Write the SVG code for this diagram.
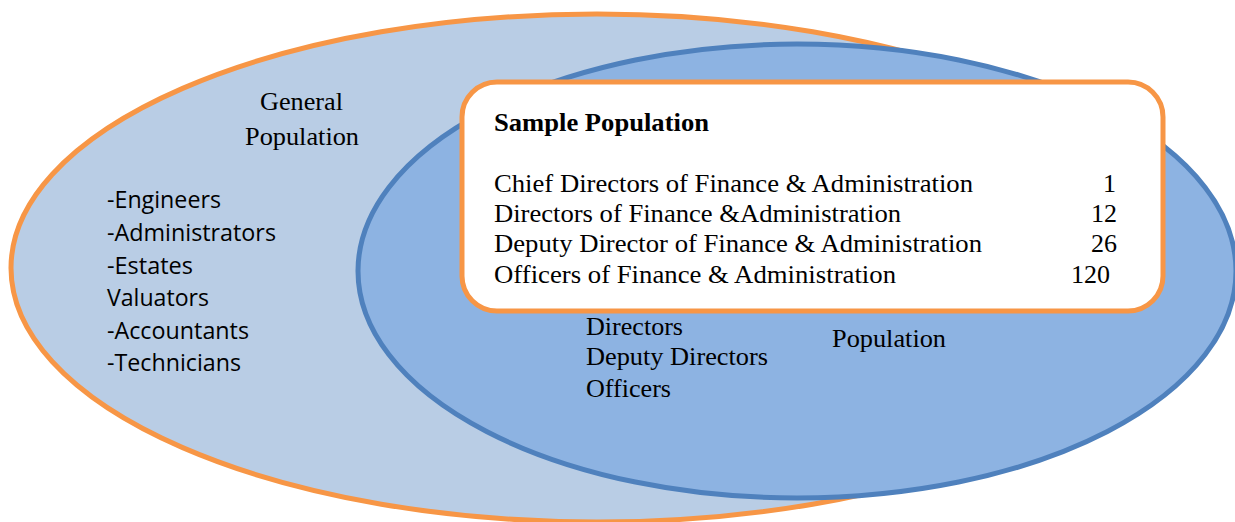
<svg xmlns="http://www.w3.org/2000/svg" width="1235" height="522" viewBox="0 0 1235 522">
<style>
.serif{font-family:"Liberation Serif","Times New Roman",serif;font-size:26px;fill:#000}
.bold{font-weight:bold}
.sans{font-family:"Open Sans","Noto Sans","Liberation Sans",sans-serif;font-size:23px;fill:#000}
.num{text-anchor:end}
</style>
<rect width="1235" height="522" fill="#ffffff"/>
<g id="general-population">
<ellipse cx="597" cy="268" rx="586" ry="254" fill="#B9CDE5" stroke="#F79646" stroke-width="5"/>
<text class="serif" x="260" y="110" textLength="83" lengthAdjust="spacingAndGlyphs">General</text>
<text class="serif" x="245" y="145" textLength="114" lengthAdjust="spacingAndGlyphs">Population</text>
<text class="sans" x="107" y="208" textLength="114" lengthAdjust="spacingAndGlyphs">-Engineers</text>
<text class="sans" x="107" y="241" textLength="169" lengthAdjust="spacingAndGlyphs">-Administrators</text>
<text class="sans" x="107" y="274" textLength="86" lengthAdjust="spacingAndGlyphs">-Estates</text>
<text class="sans" x="107" y="306" textLength="102" lengthAdjust="spacingAndGlyphs">Valuators</text>
<text class="sans" x="107" y="339" textLength="142" lengthAdjust="spacingAndGlyphs">-Accountants</text>
<text class="sans" x="107" y="371" textLength="134" lengthAdjust="spacingAndGlyphs">-Technicians</text>
</g>
<g id="target-population">
<ellipse cx="797" cy="271" rx="439" ry="227" fill="#8DB3E2" stroke="#4F81BD" stroke-width="5"/>
<text class="serif" x="586" y="335" textLength="97" lengthAdjust="spacingAndGlyphs">Directors</text>
<text class="serif" x="586" y="365" textLength="182" lengthAdjust="spacingAndGlyphs">Deputy Directors</text>
<text class="serif" x="586" y="397" textLength="85" lengthAdjust="spacingAndGlyphs">Officers</text>
<text class="serif" x="832" y="347" textLength="114" lengthAdjust="spacingAndGlyphs">Population</text>
</g>
<g id="sample-population">
<rect x="462" y="82" width="701" height="229" rx="35" ry="35" fill="#ffffff" stroke="#F79646" stroke-width="5"/>
<text class="serif bold" x="494" y="131" textLength="215" lengthAdjust="spacingAndGlyphs">Sample Population</text>
<text class="serif" x="494" y="192" textLength="479" lengthAdjust="spacingAndGlyphs">Chief Directors of Finance &amp; Administration</text>
<text class="serif" x="494" y="222" textLength="407" lengthAdjust="spacingAndGlyphs">Directors of Finance &amp;Administration</text>
<text class="serif" x="494" y="252" textLength="488" lengthAdjust="spacingAndGlyphs">Deputy Director of Finance &amp; Administration</text>
<text class="serif" x="494" y="283" textLength="402" lengthAdjust="spacingAndGlyphs">Officers of Finance &amp; Administration</text>
<text class="serif num" x="1116" y="192">1</text>
<text class="serif num" x="1117" y="222">12</text>
<text class="serif num" x="1117" y="252">26</text>
<text class="serif num" x="1110" y="283">120</text>
</g>
<g id="connectors"/>
</svg>
